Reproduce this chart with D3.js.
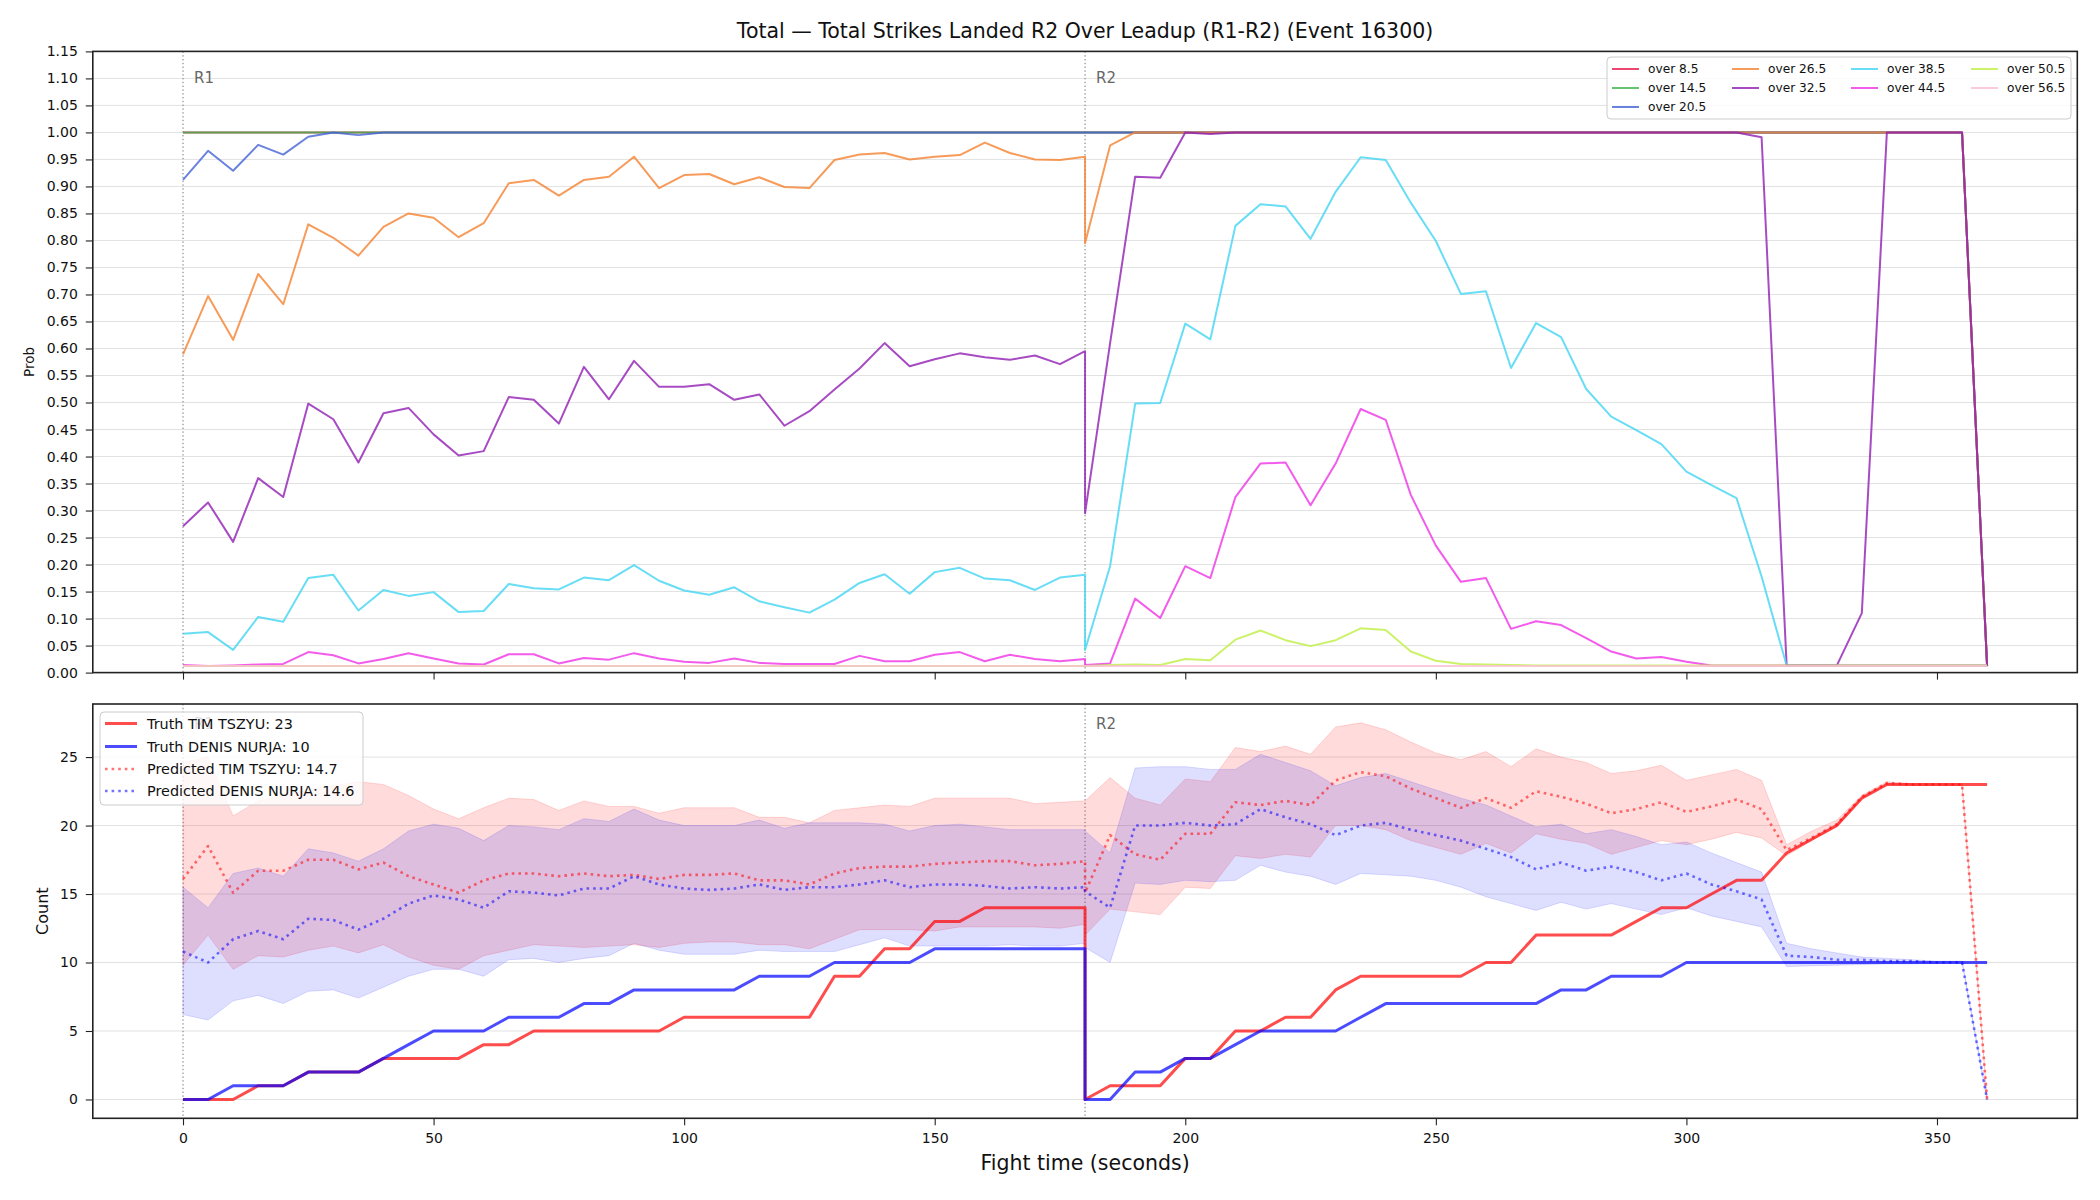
<!DOCTYPE html>
<html>
<head>
<meta charset="utf-8">
<script src="https://cdn.jsdelivr.net/npm/d3@7"></script>
<style>
  html, body { margin: 0; padding: 0; background: #fff; }
  svg { display: block; }
  text { font-family: "DejaVu Sans", sans-serif; }
</style>
</head>
<body>
<svg id="chart" width="2100" height="1200"></svg>
<script>
// ---------------- DATA ----------------
const tR1 = [0,5,10,15,20,25,30,35,40,45,50,55,60,65,70,75,80,85,90,95,100,105,110,115,120,125,130,135,140,145,150,155,160,165,170,175,180];
const tR2 = [180,185,190,195,200,205,210,215,220,225,230,235,240,245,250,255,260,265,270,275,280,285,290,295,300,305,310,315,320,325,330,335,340,345,350,355,360];

const lineNames = ["over 8.5","over 14.5","over 20.5","over 26.5","over 32.5","over 38.5","over 44.5","over 50.5","over 56.5"];

const over8_5_R1 = [1,1,1,1,1,1,1,1,1,1, 1,1,1,1,1,1,1,1,1,1, 1,1,1,1,1,1,1,1,1,1, 1,1,1,1,1,1,1];
const over8_5_R2 = [1,1,1,1,1,1,1,1,1,1, 1,1,1,1,1,1,1,1,1,1, 1,1,1,1,1,1,1,1,1,1, 1,1,1,1,1,1,0.012];
const over14_5_R1 = [1,1,1,1,1,1,1,1,1,1, 1,1,1,1,1,1,1,1,1,1, 1,1,1,1,1,1,1,1,1,1, 1,1,1,1,1,1,1];
const over14_5_R2 = [1,1,1,1,1,1,1,1,1,1, 1,1,1,1,1,1,1,1,1,1, 1,1,1,1,1,1,1,1,1,1, 1,1,1,1,1,1,0.012];
const over20_5_R1 = [0.912,0.966,0.929,0.977,0.959,0.992,1,0.995,1,1, 1,1,1,1,1,1,1,1,1,1, 1,1,1,1,1,1,1,1,1,1, 1,1,1,1,1,1,1];
const over20_5_R2 = [1,1,1,1,1,1,1,1,1,1, 1,1,1,1,1,1,1,1,1,1, 1,1,1,1,1,1,1,1,1,1, 1,1,1,1,1,1,0.012];
const over26_5_R1 = [0.589,0.697,0.616,0.738,0.682,0.830,0.805,0.772,0.825,0.850, 0.842,0.806,0.832,0.906,0.912,0.883,0.912,0.918,0.955,0.897, 0.921,0.923,0.904,0.917,0.899,0.897,0.949,0.959,0.962,0.950, 0.955,0.958,0.981,0.962,0.950,0.949,0.955];
const over26_5_R2 = [0.795,0.976,1,1,1,1,1,1,1,1, 1,1,1,1,1,1,1,1,1,1, 1,1,1,1,1,1,1,1,1,1, 1,1,1,1,1,1,0.012];
const over32_5_R1 = [0.271,0.315,0.242,0.360,0.325,0.498,0.469,0.389,0.480,0.490, 0.441,0.402,0.410,0.510,0.505,0.461,0.566,0.506,0.577,0.529, 0.529,0.534,0.505,0.515,0.457,0.484,0.524,0.563,0.610,0.567, 0.580,0.591,0.584,0.579,0.587,0.571,0.595];
const over32_5_R2 = [0.295,0.610,0.918,0.916,1,0.997,1,1,1,1, 1,1,1,1,1,1,1,1,1,1, 1,1,1,1,1,1,1,0.991,0.013,0.013, 0.013,0.110,1,1,1,1,0.012];
const over38_5_R1 = [0.072,0.075,0.042,0.103,0.094,0.175,0.181,0.115,0.153,0.142, 0.149,0.112,0.114,0.164,0.156,0.154,0.176,0.171,0.199,0.170, 0.152,0.144,0.158,0.132,0.121,0.111,0.135,0.166,0.182,0.146, 0.186,0.194,0.174,0.171,0.153,0.176,0.181];
const over38_5_R2 = [0.042,0.197,0.498,0.499,0.646,0.617,0.827,0.867,0.863,0.803, 0.890,0.954,0.949,0.870,0.799,0.701,0.706,0.564,0.647,0.621, 0.525,0.474,0.449,0.423,0.372,0.347,0.323,0.178,0.013,0.013, 0.013,0.013,0.013,0.013,0.013,0.013,0.013];
const over44_5_R1 = [0.014,0.012,0.013,0.015,0.016,0.038,0.032,0.017,0.025,0.036, 0.026,0.017,0.015,0.034,0.034,0.017,0.027,0.024,0.036,0.026, 0.020,0.018,0.026,0.018,0.016,0.016,0.016,0.031,0.021,0.021, 0.033,0.038,0.021,0.033,0.025,0.021,0.025];
const over44_5_R2 = [0.014,0.017,0.137,0.101,0.197,0.175,0.325,0.387,0.389,0.310, 0.387,0.488,0.468,0.329,0.235,0.168,0.175,0.081,0.095,0.088, 0.064,0.039,0.026,0.029,0.020,0.013,0.013,0.013,0.013,0.013, 0.013,0.013,0.013,0.013,0.013,0.013,0.013];
const over50_5_R1 = [0.012,0.012,0.012,0.012,0.012,0.012,0.012,0.012,0.012,0.012, 0.012,0.012,0.012,0.012,0.012,0.012,0.012,0.012,0.012,0.012, 0.012,0.012,0.012,0.012,0.012,0.012,0.012,0.012,0.012,0.012, 0.012,0.012,0.012,0.012,0.012,0.012,0.012];
const over50_5_R2 = [0.012,0.014,0.015,0.014,0.025,0.023,0.061,0.078,0.060,0.049, 0.060,0.082,0.079,0.039,0.022,0.016,0.015,0.014,0.013,0.013, 0.013,0.013,0.013,0.013,0.013,0.013,0.013,0.013,0.013,0.013, 0.013,0.013,0.013,0.013,0.013,0.013,0.013];
const over56_5_R1 = [0.012,0.012,0.012,0.012,0.012,0.012,0.012,0.012,0.012,0.012, 0.012,0.012,0.012,0.012,0.012,0.012,0.012,0.012,0.012,0.012, 0.012,0.012,0.012,0.012,0.012,0.012,0.012,0.012,0.012,0.012, 0.012,0.012,0.012,0.012,0.012,0.012,0.012];
const over56_5_R2 = [0.012,0.012,0.012,0.012,0.012,0.012,0.012,0.012,0.012,0.012, 0.012,0.012,0.012,0.012,0.012,0.012,0.012,0.012,0.012,0.012, 0.012,0.012,0.012,0.012,0.012,0.012,0.012,0.012,0.012,0.012, 0.012,0.012,0.012,0.012,0.012,0.012,0.012];

const truthTim_R1 = [0,0,0,1,1,2,2,2,3,3, 3,3,4,4,5,5,5,5,5,5, 6,6,6,6,6,6,9,9,11,11, 13,13,14,14,14,14,14];
const truthTim_R2 = [0,1,1,1,3,3,5,5,6,6, 8,9,9,9,9,9,10,10,12,12, 12,12,13,14,14,15,16,16,18,19, 20,22,23,23,23,23,23];
const truthDenis_R1 = [0,0,1,1,1,2,2,2,3,4, 5,5,5,6,6,6,7,7,8,8, 8,8,8,9,9,9,10,10,10,10, 11,11,11,11,11,11,11];
const truthDenis_R2 = [0,0,2,2,3,3,4,5,5,5, 5,6,7,7,7,7,7,7,7,8, 8,9,9,9,10,10,10,10,10,10, 10,10,10,10,10,10,10];

const predTim_R1 = [16.1,18.5,15.1,16.7,16.7,17.5,17.5,16.8,17.3,16.3, 15.7,15.1,16.0,16.5,16.5,16.3,16.5,16.3,16.4,16.1, 16.4,16.4,16.5,16.0,16.0,15.7,16.5,16.9,17.0,17.0, 17.2,17.3,17.4,17.4,17.1,17.2,17.4];
const predTim_R2 = [15.1,19.3,17.9,17.5,19.4,19.4,21.7,21.5,21.8,21.5, 23.3,23.9,23.6,22.7,22.0,21.3,22.0,21.3,22.5,22.1, 21.6,20.9,21.2,21.7,21.0,21.4,21.9,21.2,18.2,19.1, 20.1,22.1,23.1,23.0,23.0,23.0,0];
const predDenis_R1 = [10.8,10.0,11.7,12.3,11.7,13.2,13.1,12.4,13.2,14.3, 14.9,14.6,14.0,15.2,15.1,14.9,15.4,15.4,16.3,15.7, 15.4,15.3,15.4,15.7,15.3,15.5,15.5,15.7,16.0,15.5, 15.7,15.7,15.6,15.4,15.5,15.4,15.5];
const predDenis_R2 = [15.2,14.0,20.0,20.0,20.2,20.0,20.1,21.2,20.6,20.1, 19.3,20.0,20.2,19.7,19.3,18.9,18.3,17.7,16.8,17.3, 16.7,17.0,16.6,16.0,16.5,15.7,15.2,14.6,10.5,10.4, 10.2,10.2,10.1,10.1,10.0,10.0,0];

const timUpper_R1 = [24.6,25.0,20.7,21.8,22.2,22.6,22.9,23.2,23.0,22.2, 21.2,20.5,21.3,22.0,21.9,21.1,21.8,21.4,21.4,20.9, 21.3,21.3,21.3,20.6,20.6,20.2,21.1,21.3,21.5,21.4, 22.0,22.0,22.0,22.0,21.6,21.7,21.8];
const timUpper_R2 = [21.8,23.5,22.0,21.5,23.4,23.2,25.7,25.4,25.8,25.2, 27.2,27.5,27.0,26.1,25.3,24.8,25.4,24.3,25.6,25.0, 24.6,23.8,24.0,24.4,23.3,23.7,24.1,23.3,18.6,19.6, 20.4,22.2,23.2,23.05,23.05,23.05,0];
const timLower_R1 = [9.8,12.0,9.5,10.5,10.4,10.9,11.2,10.7,11.3,10.4, 9.8,9.5,10.5,10.9,11.3,11.2,11.1,11.2,11.3,11.1, 11.4,11.5,11.5,11.3,11.3,11.0,11.7,12.4,12.4,12.4, 12.3,12.6,12.6,12.6,12.6,12.5,12.8];
const timLower_R2 = [12.0,13.9,13.7,13.5,15.5,15.4,17.8,17.6,17.9,17.7, 20.0,20.0,19.7,18.9,18.4,17.9,18.7,18.0,19.4,19.0, 18.7,17.9,18.4,18.9,18.6,19.0,19.5,19.1,17.8,18.9, 19.9,22.0,23.0,22.95,22.95,22.95,0];
const denisUpper_R1 = [15.5,14.0,16.5,16.9,16.3,18.3,18.0,17.4,18.3,19.6, 20.1,19.8,18.9,20.0,19.9,19.7,20.5,20.3,21.2,20.4, 20.0,20.0,20.0,20.4,19.8,20.2,20.2,20.2,20.1,19.6, 20.0,20.1,19.9,19.7,19.7,19.7,19.7];
const denisUpper_R2 = [19.6,18.0,24.2,24.3,24.3,24.1,24.1,25.2,24.6,24.0, 22.9,23.5,23.8,23.2,22.6,22.0,21.5,20.7,19.9,20.1, 19.4,19.7,19.2,18.6,18.8,18.0,17.3,16.6,11.4,11.0, 10.7,10.4,10.3,10.2,10.1,10.1,0];
const denisLower_R1 = [6.2,5.8,7.2,7.6,7.0,7.9,8.0,7.4,8.2,9.0, 9.5,9.5,9.0,10.2,10.3,10.0,10.3,10.5,11.4,10.9, 10.6,10.6,10.6,10.9,10.8,10.8,10.8,11.3,11.8,11.2, 11.2,11.2,11.2,11.3,11.2,11.2,11.4];
const denisLower_R2 = [11.1,10.0,15.8,15.7,16.0,15.9,16.0,17.1,16.6,16.3, 15.7,16.5,16.4,16.3,16.0,15.5,14.8,14.3,13.8,14.4, 13.9,14.3,13.9,13.5,14.0,13.4,13.0,12.6,9.7,9.76, 9.8,9.85,9.9,9.9,9.95,10.0,0];

const bottomLegend = ["Truth TIM TSZYU: 23","Truth DENIS NURJA: 10","Predicted TIM TSZYU: 14.7","Predicted DENIS NURJA: 14.6"];
const probTicks = [0,0.05,0.10,0.15,0.20,0.25,0.30,0.35,0.40,0.45,0.50,0.55,0.60,0.65,0.70,0.75,0.80,0.85,0.90,0.95,1.00,1.05,1.10,1.15];
const countTicks = [0,5,10,15,20,25];
const timeTicks = [0,50,100,150,200,250,300,350];
const roundStarts = [{t:0,label:"R1"},{t:180,label:"R2"}];
const titleText = "Total \u2014 Total Strikes Landed R2 Over Leadup (R1-R2) (Event 16300)";

// ---------------- BUILD ----------------
const T = tR1.concat(tR2);
const topSeries = [
  over8_5_R1.concat(over8_5_R2), over14_5_R1.concat(over14_5_R2), over20_5_R1.concat(over20_5_R2),
  over26_5_R1.concat(over26_5_R2), over32_5_R1.concat(over32_5_R2), over38_5_R1.concat(over38_5_R2),
  over44_5_R1.concat(over44_5_R2), over50_5_R1.concat(over50_5_R2), over56_5_R1.concat(over56_5_R2)
];
const lineColors = ["#e6194b","#3cb44b","#4363d8","#f58231","#911eb4","#42d4f4","#f032e6","#bfef45","#fabed4"];

const svg = d3.select("#chart");
svg.append("rect").attr("width",2100).attr("height",1200).attr("fill","#fff");

const L = 92.8, R = 2077.3;
const top1 = 51.4, bot1 = 672.6, top2 = 704, bot2 = 1118.3;
const x = d3.scaleLinear().domain([-18, 378]).range([L, R]);
const yTop = d3.scaleLinear().domain([0, 1.15]).range([bot1, top1]);
const yBot = d3.scaleLinear().domain([-1.375, 28.875]).range([bot2, top2]);

svg.append("defs").html(
  `<clipPath id="c1"><rect x="${L}" y="${top1}" width="${R-L}" height="${bot1-top1}"/></clipPath>
   <clipPath id="c2"><rect x="${L}" y="${top2}" width="${R-L}" height="${bot2-top2}"/></clipPath>`);

function panelGrid(yScale, ticks, top, bot) {
  svg.append("g").selectAll("line").data(ticks).join("line")
    .attr("x1", L).attr("x2", R)
    .attr("y1", d => yScale(d)).attr("y2", d => yScale(d))
    .attr("stroke", "#e2e2e2").attr("stroke-width", 1);
}
panelGrid(yTop, probTicks, top1, bot1);
panelGrid(yBot, countTicks, top2, bot2);

// round lines + labels
function roundMarks(yTopPx, yBotPx, labelY, showLabels) {
  const g = svg.append("g");
  g.selectAll("line").data(roundStarts).join("line")
    .attr("x1", d => x(d.t)).attr("x2", d => x(d.t))
    .attr("y1", yTopPx).attr("y2", yBotPx)
    .attr("stroke", "#777").attr("stroke-width", 1).attr("stroke-dasharray", "1.4,2.4");
  g.selectAll("text").data(roundStarts.filter(showLabels)).join("text")
    .attr("x", d => x(d.t) + 11).attr("y", labelY)
    .attr("dominant-baseline", "central")
    .attr("font-size", 15).attr("fill", "#666")
    .text(d => d.label);
}
roundMarks(top1, bot1, 78, () => true);
roundMarks(top2, bot2, 724, () => true);

// top lines
const gTop = svg.append("g").attr("clip-path", "url(#c1)");
topSeries.forEach((vals, k) => {
  const line = d3.line().x((d, i) => x(T[i])).y(d => yTop(d));
  gTop.append("path").datum(vals).attr("d", line)
    .attr("fill", "none").attr("stroke", lineColors[k]).attr("stroke-opacity", 0.8)
    .attr("stroke-width", 2).attr("stroke-linejoin", "round");
});

// bottom panel
const gBot = svg.append("g").attr("clip-path", "url(#c2)");
const bands = [
  {up: timUpper_R1.concat(timUpper_R2), lo: timLower_R1.concat(timLower_R2), color: "255,0,0", a: 0.14},
  {up: denisUpper_R1.concat(denisUpper_R2), lo: denisLower_R1.concat(denisLower_R2), color: "0,0,255", a: 0.13}
];
bands.forEach(b => {
  const area = d3.area().x((d, i) => x(T[i])).y0((d, i) => yBot(b.lo[i])).y1(d => yBot(d));
  gBot.append("path").datum(b.up).attr("d", area)
    .attr("fill", `rgba(${b.color},${b.a})`)
    .attr("stroke", `rgba(${b.color},${b.a})`).attr("stroke-width", 1);
});
const lineB = d3.line().x((d, i) => x(T[i])).y(d => yBot(d));
const bottomLines = [
  {v: truthTim_R1.concat(truthTim_R2), c: "rgba(255,0,0,0.7)", w: 3, dash: null},
  {v: truthDenis_R1.concat(truthDenis_R2), c: "rgba(0,0,255,0.7)", w: 3, dash: null},
  {v: predTim_R1.concat(predTim_R2), c: "rgba(255,0,0,0.55)", w: 2.6, dash: "2.6,4"},
  {v: predDenis_R1.concat(predDenis_R2), c: "rgba(0,0,255,0.55)", w: 2.6, dash: "2.6,4"}
];
bottomLines.forEach(s => {
  const p = gBot.append("path").datum(s.v).attr("d", lineB)
    .attr("fill", "none").attr("stroke", s.c).attr("stroke-width", s.w)
    .attr("stroke-linejoin", "round");
  if (s.dash) p.attr("stroke-dasharray", s.dash);
});

// axes
function styleAxis(g, size) {
  g.select(".domain").remove();
  g.selectAll(".tick line").attr("stroke", "#222").attr("stroke-width", 1.1);
  g.selectAll(".tick text").attr("font-size", size).attr("fill", "#111")
    .attr("font-family", "DejaVu Sans, sans-serif");
}
const ayTop = svg.append("g").attr("transform", `translate(${L},0)`)
  .call(d3.axisLeft(yTop).tickValues(probTicks).tickFormat(d3.format(".2f")).tickSize(7).tickPadding(8));
styleAxis(ayTop, 14);
const ayBot = svg.append("g").attr("transform", `translate(${L},0)`)
  .call(d3.axisLeft(yBot).tickValues(countTicks).tickFormat(d3.format("d")).tickSize(7).tickPadding(8));
styleAxis(ayBot, 14);
const axTop = svg.append("g").attr("transform", `translate(0,${bot1})`)
  .call(d3.axisBottom(x).tickValues(timeTicks).tickFormat("").tickSize(7));
styleAxis(axTop, 14);
const axBot = svg.append("g").attr("transform", `translate(0,${bot2})`)
  .call(d3.axisBottom(x).tickValues(timeTicks).tickFormat(d3.format("d")).tickSize(7).tickPadding(8));
styleAxis(axBot, 14);

// spines
[[top1, bot1], [top2, bot2]].forEach(([a, b]) => {
  svg.append("rect").attr("x", L).attr("y", a).attr("width", R - L).attr("height", b - a)
    .attr("fill", "none").attr("stroke", "#222").attr("stroke-width", 1.6);
});

// labels
svg.append("text").attr("x", (L + R) / 2).attr("y", 31).attr("text-anchor", "middle")
  .attr("dominant-baseline", "central").attr("font-size", 20.5).attr("fill", "#111").text(titleText);
svg.append("text").attr("x", (L + R) / 2).attr("y", 1163).attr("text-anchor", "middle")
  .attr("dominant-baseline", "central").attr("font-size", 20.5).attr("fill", "#111").text("Fight time (seconds)");
svg.append("text").attr("transform", `translate(29,${(top1 + bot1) / 2}) rotate(-90)`)
  .attr("text-anchor", "middle").attr("dominant-baseline", "central").attr("font-size", 13.5).attr("fill", "#111").text("Prob");
svg.append("text").attr("transform", `translate(42,${(top2 + bot2) / 2}) rotate(-90)`)
  .attr("text-anchor", "middle").attr("dominant-baseline", "central").attr("font-size", 16).attr("fill", "#111").text("Count");

// top legend
const lg = svg.append("g");
lg.append("rect").attr("x", 1607).attr("y", 57).attr("width", 464).attr("height", 62).attr("rx", 4)
  .attr("fill", "rgba(255,255,255,0.8)").attr("stroke", "#cccccc").attr("stroke-width", 1);
const colX = [1612, 1732, 1851, 1971];
const rowY = [69, 88, 107];
const colOf = [0,0,0,1,1,2,2,3,3], rowOf = [0,1,2,0,1,0,1,0,1];
lineNames.forEach((nm, k) => {
  const cx = colX[colOf[k]], cy = rowY[rowOf[k]];
  lg.append("line").attr("x1", cx).attr("x2", cx + 27).attr("y1", cy).attr("y2", cy)
    .attr("stroke", lineColors[k]).attr("stroke-opacity", 0.8).attr("stroke-width", 2);
  lg.append("text").attr("x", cx + 36).attr("y", cy).attr("dominant-baseline", "central")
    .attr("font-size", 12.2).attr("fill", "#111").text(nm);
});

// bottom legend
const lb = svg.append("g");
lb.append("rect").attr("x", 100).attr("y", 712).attr("width", 263).attr("height", 93).attr("rx", 4)
  .attr("fill", "rgba(255,255,255,0.8)").attr("stroke", "#cccccc").attr("stroke-width", 1);
const bRows = [723.5, 746.5, 769, 791];
bottomLegend.forEach((nm, k) => {
  const s = bottomLines[k];
  const ln = lb.append("line").attr("x1", 105).attr("x2", 137).attr("y1", bRows[k]).attr("y2", bRows[k])
    .attr("stroke", s.c).attr("stroke-width", s.w);
  if (s.dash) ln.attr("stroke-dasharray", s.dash);
  lb.append("text").attr("x", 147).attr("y", bRows[k]).attr("dominant-baseline", "central")
    .attr("font-size", 14.4).attr("fill", "#111").text(nm);
});
</script>
</body>
</html>
